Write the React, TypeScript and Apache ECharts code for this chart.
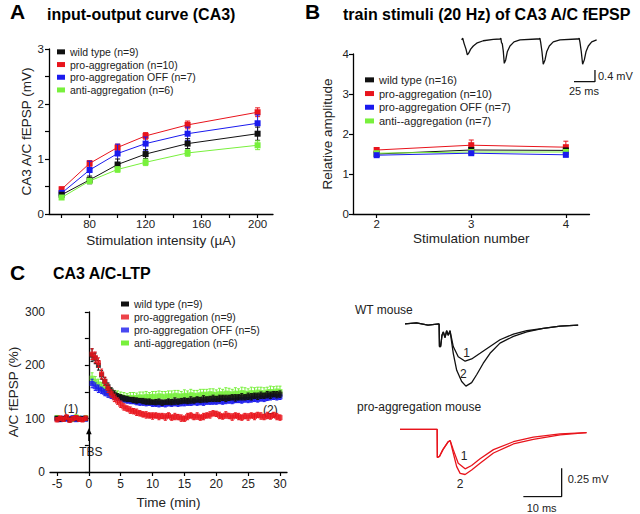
import React, { useEffect, useRef } from "react";
import * as echarts from "echarts";

// ---------------- Panel A: input-output curve ----------------
const ioIntensity = [60, 80, 100, 120, 150, 200];
const ioWild = [0.35, 0.62, 0.9, 1.09, 1.28, 1.46];
const ioWildErr = [0.04, 0.07, 0.1, 0.08, 0.09, 0.12];
const ioPro = [0.45, 0.92, 1.21, 1.42, 1.62, 1.85];
const ioProErr = [0.04, 0.05, 0.06, 0.06, 0.07, 0.08];
const ioOff = [0.38, 0.8, 1.1, 1.28, 1.46, 1.65];
const ioOffErr = [0.05, 0.16, 0.17, 0.12, 0.12, 0.15];
const ioAnti = [0.3, 0.6, 0.81, 0.94, 1.11, 1.25];
const ioAntiErr = [0.03, 0.05, 0.05, 0.06, 0.06, 0.08];
const ioTicks = [60, 80, 100, 120, 140, 160, 180, 200];
const ioTickLabels = [80, 120, 160, 200];
const ioYLabels = [0, 1, 2, 3];

// ---------------- Panel B: train stimuli ----------------
const stimNumber = [2, 3, 4];
const trainWild = [1.5, 1.6, 1.59];
const trainWildErr = [0.04, 0.05, 0.05];
const trainPro = [1.6, 1.72, 1.67];
const trainProErr = [0.05, 0.13, 0.15];
const trainOff = [1.47, 1.52, 1.48];
const trainOffErr = [0.04, 0.04, 0.05];
const trainAnti = [1.52, 1.55, 1.55];
const trainAntiErr = [0.04, 0.05, 0.05];
const stimTicks = [2, 3, 4];
const trainYLabels = [0, 1, 2, 3, 4];

// inset trace (ms, mV)
const trainTraceT = [0, 1.2, 2.8, 5.1, 6.7, 8.3, 10.7, 13.8, 18.6, 25.7, 37.6, 45.6, 46.6, 47.4, 48.3, 49.5, 50.7, 52.4, 54.3, 57.5, 62.3, 69.4, 89.3, 92.2, 93.1, 94.0, 95.6, 97.1, 99.2, 101.2, 104.3, 109.0, 117.0, 137.0, 139.0, 139.9, 140.8, 142.4, 144.0, 146.0, 148.0, 150.8, 154.8, 160.7];
const trainTraceV = [-0.02, 0.04, -0.14, -0.34, -0.54, -0.48, -0.34, -0.23, -0.12, -0.05, 0, 0.01, 0.04, -0.12, -0.15, -0.4, -0.83, -0.71, -0.43, -0.23, -0.09, -0.02, 0.01, 0.01, 0.04, -0.1, -0.43, -0.86, -0.71, -0.43, -0.23, -0.09, -0.02, 0.01, 0.01, 0.04, -0.1, -0.43, -0.86, -0.71, -0.43, -0.23, -0.09, -0.02];
const trainScaleMs = 25;
const trainScaleMv = 0.4;

// ---------------- Panel C: LTP ----------------
const ltpTime = [-5, -4.5, -4, -3.5, -3, -2.5, -2, -1.5, -1, -0.5,
  0.5, 1, 1.5, 2, 2.5, 3, 3.5, 4, 4.5, 5,
  5.5, 6, 6.5, 7, 7.5, 8, 8.5, 9, 9.5, 10,
  10.5, 11, 11.5, 12, 12.5, 13, 13.5, 14, 14.5, 15,
  15.5, 16, 16.5, 17, 17.5, 18, 18.5, 19, 19.5, 20,
  20.5, 21, 21.5, 22, 22.5, 23, 23.5, 24, 24.5, 25,
  25.5, 26, 26.5, 27, 27.5, 28, 28.5, 29, 29.5, 30];
const ltpWild = [101, 99, 100, 102, 98, 100, 101, 99, 100, 100,
  219, 213, 200, 182, 170, 160, 152, 146, 142, 140,
  138, 137, 136, 135, 134, 134, 133, 132, 132, 131,
  131, 132, 130, 131, 132, 131, 133, 132, 133, 134,
  133, 135, 134, 136, 135, 137, 136, 137, 138, 137,
  138, 139, 138, 139, 140, 139, 140, 141, 140, 142,
  141, 143, 142, 144, 143, 145, 144, 146, 145, 146];
const ltpWildErr = [3, 3, 3, 3, 3, 3, 3, 3, 3, 3,
  12, 10, 9, 8, 7, 7, 6, 6, 5, 5,
  5, 5, 4, 5, 5, 4, 5, 5, 5, 4,
  5, 5, 5, 4, 5, 5, 6, 5, 5, 5,
  5, 6, 5, 5, 5, 6, 5, 5, 6, 5,
  6, 5, 6, 5, 5, 6, 5, 6, 5, 6,
  6, 5, 6, 6, 5, 6, 6, 5, 6, 6];
const ltpPro = [98, 101, 99, 103, 97, 100, 102, 99, 98, 101,
  221, 215, 205, 184, 170, 157, 147, 139, 133, 127,
  122, 119, 116, 114, 112, 110, 108, 107, 106, 105,
  106, 104, 105, 103, 106, 102, 104, 103, 101, 100,
  104, 106, 103, 105, 102, 104, 106, 107, 110, 109,
  106, 104, 107, 105, 103, 106, 104, 102, 105, 103,
  106, 104, 107, 105, 103, 106, 104, 107, 104, 102];
const ltpProErr = [4, 4, 4, 4, 4, 4, 4, 4, 4, 4,
  10, 10, 9, 9, 8, 8, 7, 7, 6, 6,
  6, 5, 6, 5, 6, 5, 5, 6, 5, 6,
  5, 6, 5, 6, 5, 5, 6, 5, 6, 5,
  6, 5, 5, 6, 5, 6, 5, 6, 5, 5,
  6, 5, 6, 5, 6, 5, 6, 5, 5, 6,
  5, 6, 5, 6, 5, 6, 5, 5, 6, 5];
const ltpOff = [100, 98, 101, 99, 100, 102, 98, 100, 101, 99,
  166, 160, 156, 153, 149, 146, 143, 141, 139, 138,
  136, 134, 133, 132, 131, 130, 130, 129, 129, 128,
  128, 127, 128, 127, 128, 128, 129, 128, 129, 129,
  130, 129, 131, 130, 131, 130, 132, 131, 132, 132,
  133, 132, 133, 134, 133, 134, 135, 134, 136, 135,
  136, 137, 136, 138, 137, 139, 140, 141, 140, 141];
const ltpOffErr = [3, 3, 3, 3, 3, 3, 3, 3, 3, 3,
  8, 7, 7, 6, 6, 6, 5, 5, 5, 5,
  5, 5, 5, 4, 5, 5, 5, 5, 4, 5,
  5, 5, 5, 5, 4, 5, 5, 5, 5, 5,
  5, 4, 5, 5, 5, 5, 5, 4, 5, 5,
  5, 5, 5, 5, 5, 4, 5, 5, 5, 5,
  5, 5, 5, 5, 5, 5, 5, 5, 5, 5];
const ltpAnti = [102, 100, 99, 101, 100, 99, 103, 101, 100, 102,
  176, 170, 165, 160, 155, 151, 148, 145, 143, 141,
  140, 139, 140, 139, 140, 141, 140, 142, 141, 142,
  141, 143, 142, 141, 143, 142, 144, 143, 142, 144,
  143, 145, 144, 143, 145, 146, 145, 147, 146, 145,
  147, 146, 148, 147, 146, 148, 147, 149, 148, 147,
  149, 148, 150, 149, 148, 150, 151, 150, 152, 151];
const ltpAntiErr = [4, 4, 4, 4, 4, 4, 4, 4, 4, 4,
  10, 9, 9, 8, 8, 8, 8, 8, 9, 9,
  9, 8, 9, 10, 8, 9, 10, 9, 8, 9,
  10, 9, 9, 10, 9, 10, 9, 10, 9, 10,
  9, 10, 9, 10, 10, 9, 10, 9, 10, 9,
  10, 9, 10, 10, 9, 10, 9, 10, 10, 9,
  10, 10, 9, 10, 10, 9, 10, 10, 9, 10];
const ltpTicks = [-5, 0, 5, 10, 15, 20, 25, 30];
const ltpYLabels = [0, 100, 200, 300];

// example traces (ms, mV)
const wtSharedT = [0, 3, 6, 8.9, 9.0, 9.3, 9.66, 10.0, 10.44, 10.88, 11.3, 11.75];
const wtSharedV = [0, 0.01, -0.01, 0, -0.2, -0.2, -0.1, -0.07, -0.12, -0.06, -0.1, -0.06];
const wt1T = [12.6, 13.9, 15.7, 17.4, 19.6, 22.2, 24.8, 28.3, 31.8, 36.1, 40.5, 45.2];
const wt1V = [-0.2, -0.29, -0.33, -0.31, -0.26, -0.2, -0.14, -0.09, -0.06, -0.04, -0.02, -0.01];
const wt2T = [12.6, 13.5, 14.8, 15.9, 17.4, 18.7, 20.4, 22.2, 24.8, 28.3, 31.8, 36.1, 40.5, 45.2];
const wt2V = [-0.26, -0.41, -0.51, -0.55, -0.52, -0.45, -0.35, -0.26, -0.17, -0.11, -0.07, -0.04, -0.02, -0.01];
const proSharedT = [0, 4, 9.7, 9.75, 10.3, 11.2, 12.6, 13.1];
const proSharedV = [0, 0, 0, -0.25, -0.24, -0.18, -0.11, -0.1];
const pro1T = [13.9, 15.2, 17.0, 18.7, 20.9, 24.4, 29.6, 34.8, 41.8, 48.7];
const pro1V = [-0.18, -0.3, -0.35, -0.32, -0.26, -0.18, -0.11, -0.07, -0.04, -0.03];
const pro2T = [13.9, 14.8, 15.7, 17.0, 18.7, 20.9, 24.4, 29.6, 34.8, 41.8, 48.7];
const pro2V = [-0.21, -0.33, -0.39, -0.4, -0.36, -0.3, -0.21, -0.13, -0.09, -0.05, -0.03];
const traceScaleMs = 10;
const traceScaleMv = 0.25;

// ---------------- styles & layout ----------------
const FONT = "'Liberation Sans', Arial, Helvetica, sans-serif";
const BLACK = "#111111";
const RED = "#e8141c";
const BLUE = "#1a1aee";
const GREEN = "#78f03c";
const TXT = "#222222";

type G = { left: number; top: number; width: number; height: number; x: [number, number]; y: [number, number] };
const GA: G = { left: 49, top: 49, width: 224, height: 165, x: [51, 211], y: [0, 3] };
const GB: G = { left: 353, top: 54, width: 236.5, height: 160, x: [1.75, 4.25], y: [0, 4] };
const GC: G = { left: 50, top: 312, width: 237, height: 160, x: [-6.1, 31.1], y: [0, 300] };
const GBI: G = { left: 461.7, top: 37.85, width: 135.2, height: 44.95, x: [0, 161], y: [-1.5, 0.05] };
const GWT: G = { left: 405, top: 321.7, width: 176.2, height: 65.5, x: [0, 46], y: [-0.56, 0.02] };
const GPA: G = { left: 400, top: 427.04, width: 187.7, height: 70.06, x: [0, 49], y: [-0.6, 0.02] };
const GRIDS = [GA, GB, GC, GBI, GWT, GPA];

function px(g: G, x: number, y: number): [number, number] {
  return [
    g.left + ((x - g.x[0]) / (g.x[1] - g.x[0])) * g.width,
    g.top + ((g.y[1] - y) / (g.y[1] - g.y[0])) * g.height,
  ];
}

const zip = (a: number[], b: number[]) => a.map((v, i) => [v, b[i]]);

function errSeries(idx: number, xs: number[], ys: number[], es: number[], color: string, cap: number, z: number) {
  return {
    type: "custom",
    name: "err" + idx + color,
    xAxisIndex: idx,
    yAxisIndex: idx,
    z,
    silent: true,
    encode: { x: 0, y: 1 },
    data: xs.map((x, i) => [x, ys[i], es[i]]),
    renderItem: (_p: any, api: any) => {
      const x = api.value(0), y = api.value(1), e = api.value(2);
      const hi = api.coord([x, y + e]);
      const lo = api.coord([x, y - e]);
      const st = { stroke: color, lineWidth: 1 };
      return {
        type: "group",
        children: [
          { type: "line", shape: { x1: hi[0], y1: hi[1], x2: lo[0], y2: lo[1] }, style: st },
          { type: "line", shape: { x1: hi[0] - cap, y1: hi[1], x2: hi[0] + cap, y2: hi[1] }, style: st },
          { type: "line", shape: { x1: lo[0] - cap, y1: lo[1], x2: lo[0] + cap, y2: lo[1] }, style: st },
        ],
      };
    },
  };
}

function lineSeries(idx: number, name: string, xs: number[], ys: number[], color: string, z: number) {
  return {
    type: "line",
    name,
    xAxisIndex: idx,
    yAxisIndex: idx,
    z,
    data: zip(xs, ys),
    symbol: "rect",
    symbolSize: 6,
    showSymbol: true,
    lineStyle: { color, width: 1 },
    itemStyle: { color },
  };
}

function scatterSeries(idx: number, name: string, xs: number[], ys: number[], color: string, z: number) {
  return {
    type: "scatter",
    name,
    xAxisIndex: idx,
    yAxisIndex: idx,
    z,
    data: zip(xs, ys),
    symbol: "rect",
    symbolSize: 5,
    itemStyle: { color },
  };
}

function traceSeries(idx: number, name: string, ts: number[], vs: number[], color: string) {
  return {
    type: "line",
    name,
    xAxisIndex: idx,
    yAxisIndex: idx,
    data: zip(ts, vs),
    symbol: "none",
    showSymbol: false,
    silent: true,
    lineStyle: { color, width: 1.3 },
  };
}

const axisLine = { show: true, lineStyle: { color: "#000", width: 1.3 } };
const tickStyle = { color: "#000", width: 1.2 };
const nameStyle = { fontSize: 13.5, color: TXT, fontFamily: FONT };

function mainAxisX(gi: number, g: G, name: string, nameGap: number, ticks: number[], labels: number[], margin: number, fs: number) {
  return {
    gridIndex: gi, type: "value", min: g.x[0], max: g.x[1],
    name, nameLocation: "middle", nameGap, nameTextStyle: nameStyle, nameMoveOverlap: false,
    axisLine, splitLine: { show: false },
    axisTick: { show: true, length: 4, lineStyle: tickStyle, customValues: ticks },
    axisLabel: { color: TXT, fontSize: fs, fontFamily: FONT, margin, customValues: labels },
  };
}

function mainAxisY(gi: number, g: G, name: string, nameGap: number, interval: number, labels: number[], margin: number, fs: number) {
  return {
    gridIndex: gi, type: "value", min: g.y[0], max: g.y[1], interval,
    name, nameLocation: "middle", nameGap, nameTextStyle: nameStyle, nameMoveOverlap: false,
    axisLine, splitLine: { show: false },
    axisTick: { show: true, length: 4, lineStyle: tickStyle },
    axisLabel: { color: TXT, fontSize: fs, fontFamily: FONT, margin, customValues: labels },
  };
}

function hiddenX(gi: number, g: G) {
  return { gridIndex: gi, type: "value", min: g.x[0], max: g.x[1], show: false };
}
function hiddenY(gi: number, g: G) {
  return { gridIndex: gi, type: "value", min: g.y[0], max: g.y[1], show: false };
}

function text(t: string, x: number, y: number, size: number, align = "left", color = TXT) {
  return {
    type: "text", x, y, silent: true,
    style: {
      text: t, fill: color, fontSize: size, fontFamily: FONT,
      align, textAlign: align, verticalAlign: "middle", textVerticalAlign: "middle",
    },
  };
}

function buildOption() {
  const legendBase = {
    orient: "vertical", padding: 0, itemGap: 0, itemWidth: 8, itemHeight: 5,
    icon: "rect", selectedMode: false,
  };

  // Scale bars (drawn in trace coordinates)
  const bInsetBarX = 158.7, bInsetBarY = -1.46;
  const cBarX = 42.2, cBarY = -0.595;

  const tbsTop = px(GC, 0, 82);
  const tbsBot = px(GC, 0, 58);
  const p1 = px(GC, -2.8, 118);
  const p2 = px(GC, 28.5, 116);
  const tbsTxt = px(GC, 0, 37);

  const wt1 = px(GWT, 16.1, -0.26);
  const wt2 = px(GWT, 15.2, -0.44);
  const pr1 = px(GPA, 16.7, -0.24);
  const pr2 = px(GPA, 15.7, -0.48);
  const bBar = px(GBI, bInsetBarX, bInsetBarY);
  const cBar = px(GPA, cBarX, cBarY);

  return {
    animation: false,
    backgroundColor: "#ffffff",
    textStyle: { fontFamily: FONT },
    title: [
      { text: "A", left: 10, top: 1, padding: 0, textStyle: { fontSize: 21, fontWeight: "bold", color: "#000", fontFamily: FONT } },
      { text: "input-output curve (CA3)", left: 47, top: 6, padding: 0, textStyle: { fontSize: 16, fontWeight: "bold", color: "#000", fontFamily: FONT } },
      { text: "B", left: 305, top: 1, padding: 0, textStyle: { fontSize: 21, fontWeight: "bold", color: "#000", fontFamily: FONT } },
      { text: "train stimuli (20 Hz) of CA3 A/C fEPSP", left: 343, top: 6, padding: 0, textStyle: { fontSize: 16, fontWeight: "bold", color: "#000", fontFamily: FONT } },
      { text: "C", left: 10, top: 262, padding: 0, textStyle: { fontSize: 21, fontWeight: "bold", color: "#000", fontFamily: FONT } },
      { text: "CA3 A/C-LTP", left: 53, top: 265, padding: 0, textStyle: { fontSize: 16, fontWeight: "bold", color: "#000", fontFamily: FONT } },
    ],
    legend: [
      { ...legendBase, left: 57, top: 45.5, textStyle: { fontSize: 10.5, lineHeight: 12.7, color: TXT, fontFamily: FONT },
        data: ["wild type (n=9)", "pro-aggregation (n=10)", "pro-aggregation OFF (n=7)", "anti-aggregation (n=6)"] },
      { ...legendBase, left: 365, top: 73, itemWidth: 9, textStyle: { fontSize: 11, lineHeight: 13.7, color: TXT, fontFamily: FONT },
        data: ["wild type (n=16)", "pro-aggregation (n=10)", "pro-aggregation OFF (n=7)", "anti--aggregation (n=7)"] },
      { ...legendBase, left: 121, top: 297.5, textStyle: { fontSize: 10.5, lineHeight: 13, color: TXT, fontFamily: FONT },
        data: ["wild type (n=9)", "pro-aggregation (n=9)", "pro-aggregation OFF (n=5)", "anti-aggregation (n=6)"] },
    ],
    grid: GRIDS.map((g) => ({ left: g.left, top: g.top, width: g.width, height: g.height, containLabel: false, outerBoundsMode: "none" })),
    xAxis: [
      mainAxisX(0, GA, "Stimulation intensity (µA)", 19, ioTicks, ioTickLabels, 4, 11.5),
      mainAxisX(1, GB, "Stimulation number", 17, stimTicks, stimTicks, 4, 11.5),
      mainAxisX(2, GC, "Time (min)", 23, ltpTicks, ltpTicks, 6, 12),
      hiddenX(3, GBI),
      hiddenX(4, GWT),
      hiddenX(5, GPA),
    ],
    yAxis: [
      mainAxisY(0, GA, "CA3 A/C fEPSP (mV)", 16, 0.5, ioYLabels, 5, 11.5),
      mainAxisY(1, GB, "Relative amplitude", 19, 1, trainYLabels, 4, 11.5),
      mainAxisY(2, GC, "A/C fEPSP (%)", 30, 50, ltpYLabels, 5, 12),
      hiddenY(3, GBI),
      hiddenY(4, GWT),
      hiddenY(5, GPA),
    ],
    series: [
      // Panel A
      errSeries(0, ioIntensity, ioPro, ioProErr, RED, 2.5, 2),
      lineSeries(0, "pro-aggregation (n=10)", ioIntensity, ioPro, RED, 3),
      errSeries(0, ioIntensity, ioOff, ioOffErr, BLUE, 2.5, 4),
      lineSeries(0, "pro-aggregation OFF (n=7)", ioIntensity, ioOff, BLUE, 5),
      errSeries(0, ioIntensity, ioWild, ioWildErr, BLACK, 2.5, 6),
      lineSeries(0, "wild type (n=9)", ioIntensity, ioWild, BLACK, 7),
      errSeries(0, ioIntensity, ioAnti, ioAntiErr, GREEN, 2.5, 8),
      lineSeries(0, "anti-aggregation (n=6)", ioIntensity, ioAnti, GREEN, 9),
      // Panel B
      errSeries(1, stimNumber, trainPro, trainProErr, RED, 2.5, 2),
      lineSeries(1, "pro-aggregation (n=10)", stimNumber, trainPro, RED, 3),
      errSeries(1, stimNumber, trainWild, trainWildErr, BLACK, 2.5, 4),
      lineSeries(1, "wild type (n=16)", stimNumber, trainWild, BLACK, 5),
      errSeries(1, stimNumber, trainAnti, trainAntiErr, GREEN, 2.5, 6),
      lineSeries(1, "anti--aggregation (n=7)", stimNumber, trainAnti, GREEN, 7),
      errSeries(1, stimNumber, trainOff, trainOffErr, BLUE, 2.5, 8),
      lineSeries(1, "pro-aggregation OFF (n=7)", stimNumber, trainOff, BLUE, 9),
      // Panel C
      errSeries(2, ltpTime, ltpAnti, ltpAntiErr, GREEN, 1.5, 2),
      scatterSeries(2, "anti-aggregation (n=6)", ltpTime, ltpAnti, GREEN, 3),
      errSeries(2, ltpTime, ltpOff, ltpOffErr, BLUE, 1.5, 4),
      scatterSeries(2, "pro-aggregation OFF (n=5)", ltpTime, ltpOff, BLUE, 5),
      errSeries(2, ltpTime, ltpWild, ltpWildErr, BLACK, 1.5, 6),
      scatterSeries(2, "wild type (n=9)", ltpTime, ltpWild, BLACK, 7),
      errSeries(2, ltpTime, ltpPro, ltpProErr, RED, 1.5, 8),
      scatterSeries(2, "pro-aggregation (n=9)", ltpTime, ltpPro, RED, 9),
      // Inset trace B
      traceSeries(3, "train trace", trainTraceT, trainTraceV, BLACK),
      traceSeries(3, "train scale", [bInsetBarX - trainScaleMs, bInsetBarX, bInsetBarX], [bInsetBarY, bInsetBarY, bInsetBarY + trainScaleMv], BLACK),
      // WT traces
      traceSeries(4, "wt 1", wtSharedT.concat(wt1T), wtSharedV.concat(wt1V), BLACK),
      traceSeries(4, "wt 2", wtSharedT.concat(wt2T), wtSharedV.concat(wt2V), BLACK),
      // pro-aggregation traces
      traceSeries(5, "pro 1", proSharedT.concat(pro1T), proSharedV.concat(pro1V), RED),
      traceSeries(5, "pro 2", proSharedT.concat(pro2T), proSharedV.concat(pro2V), RED),
      traceSeries(5, "trace scale", [cBarX - traceScaleMs, cBarX, cBarX], [cBarY, cBarY, cBarY + traceScaleMv], BLACK),
    ],
    graphic: [
      text("(1)", p1[0], p1[1], 12, "center"),
      text("(2)", p2[0], p2[1], 12, "center"),
      { type: "line", silent: true, shape: { x1: tbsBot[0], y1: tbsBot[1], x2: tbsTop[0], y2: tbsTop[1] + 4 }, style: { stroke: "#000", lineWidth: 1.3 } },
      { type: "polygon", silent: true, shape: { points: [[tbsTop[0], tbsTop[1]], [tbsTop[0] - 2.8, tbsTop[1] + 6], [tbsTop[0] + 2.8, tbsTop[1] + 6]] }, style: { fill: "#000" } },
      text("TBS", tbsTxt[0] + 2, tbsTxt[1], 12, "center"),
      text("WT mouse", 355, 310, 12),
      text("pro-aggregation mouse", 357, 407, 12),
      text("1", wt1[0], wt1[1], 12, "center"),
      text("2", wt2[0], wt2[1], 12, "center"),
      text("1", pr1[0], pr1[1], 12, "center"),
      text("2", pr2[0], pr2[1], 12, "center"),
      text("0.4 mV", bBar[0] + 3, bBar[1] - 6, 11),
      text("25 ms", bBar[0] - 11, bBar[1] + 9, 11, "center"),
      text("0.25 mV", cBar[0] + 6, cBar[1] - 18, 11),
      text("10 ms", cBar[0] - 20, cBar[1] + 11, 11, "center"),
    ],
  };
}

export default function App() {
  const ref = useRef<HTMLDivElement>(null);
  useEffect(() => {
    if (!ref.current) return;
    const chart = echarts.init(ref.current, null, { renderer: "svg" });
    chart.setOption(buildOption() as any);
    return () => chart.dispose();
  }, []);
  return (
    <div
      ref={ref}
      style={{ position: "absolute", left: 0, top: 0, width: 640, height: 514, background: "#fff" }}
    />
  );
}
